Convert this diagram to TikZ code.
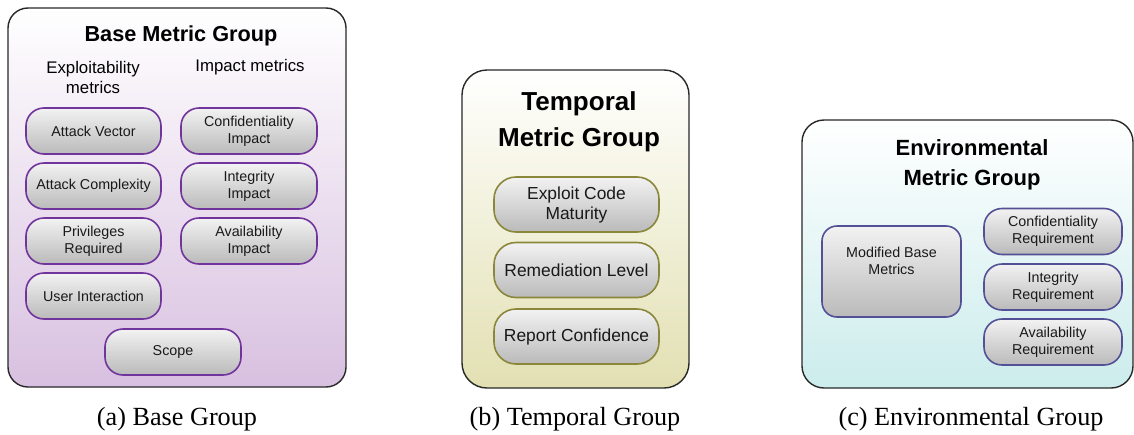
\documentclass[tikz,border=0pt]{standalone}
\usepackage{fontspec}
\setmainfont{Liberation Serif}
\newfontfamily\arial{Liberation Sans}
\definecolor{basebot}{RGB}{216,192,224}
\definecolor{baseline}{RGB}{112,52,156}
\definecolor{tempbot}{RGB}{226,224,178}
\definecolor{templine}{RGB}{138,134,58}
\definecolor{envbot}{RGB}{204,236,236}
\definecolor{envline}{RGB}{84,80,150}
\definecolor{framecol}{RGB}{40,40,40}
\tikzset{
	group/.style = {draw=framecol, line width=1.4pt, rounded corners=20pt, inner sep=0pt},
	metric/.style = {rounded corners=18pt, line width=1.6pt, top color=white!95!black, bottom color=black!27, inner sep=0pt, align=center, font=\arial\fontsize{14.3}{17}\selectfont, text=black!90, execute at begin node={\vspace*{3pt}}},
	title/.style = {align=center, font=\arial\bfseries},
	caption/.style = {font=\fontsize{26.2}{29}\selectfont}
}
\begin{document}
\begin{tikzpicture}[x=1pt, y=-1pt]
		\useasboundingbox (0,0) rectangle (1134,434);
		% base group
		\node [group, top color=white, bottom color=basebot, minimum width=338pt, minimum height=379pt] (base) at (177,197.5) {};
		\node [title, font=\arial\bfseries\fontsize{21.7}{26}\selectfont] (basetitle) at (181,36) {Base Metric Group};
		\node [align=center, font=\arial\fontsize{16.8}{20}\selectfont] (exploit) at (93,77) {Exploitability\\metrics};
		\node [align=center, font=\arial\fontsize{16.8}{20}\selectfont] (impact) at (250,67) {Impact metrics};
		\node [metric, draw=baseline, minimum width=135pt, minimum height=46pt] (av) at (93.5,131) {Attack Vector};
		\node [metric, draw=baseline, minimum width=135pt, minimum height=46pt] (ac) at (93.5,186) {Attack Complexity};
		\node [metric, draw=baseline, minimum width=135pt, minimum height=46pt] (pr) at (93.5,241) {Privileges\\Required};
		\node [metric, draw=baseline, minimum width=135pt, minimum height=46pt] (ui) at (93.5,296) {User Interaction};
		\node [metric, draw=baseline, minimum width=136pt, minimum height=46pt] (ci) at (249,131) {Confidentiality\\Impact};
		\node [metric, draw=baseline, minimum width=136pt, minimum height=46pt] (ii) at (249,186) {Integrity\\Impact};
		\node [metric, draw=baseline, minimum width=136pt, minimum height=46pt] (ai) at (249,241) {Availability\\Impact};
		\node [metric, draw=baseline, minimum width=136pt, minimum height=46pt] (scope) at (173,352) {Scope};
		\node [caption] (capa) at (177,419) {(a) Base Group};
		% temporal group
		\node [group, rounded corners=25pt, top color=white, bottom color=tempbot, minimum width=227pt, minimum height=318pt] (temp) at (575.5,229) {};
		\node [title, font=\arial\bfseries\fontsize{26}{36}\selectfont] (temptitle) at (579,122) {Temporal\\Metric Group};
		\node [metric, draw=templine, rounded corners=22pt, minimum width=165pt, minimum height=55pt, font=\arial\fontsize{17.4}{20}\selectfont] (ecm) at (576.5,204.5) {Exploit Code\\Maturity};
		\node [metric, draw=templine, rounded corners=22pt, minimum width=165pt, minimum height=55pt, font=\arial\fontsize{17.4}{20}\selectfont] (rl) at (576.5,270) {Remediation Level};
		\node [metric, draw=templine, rounded corners=22pt, minimum width=165pt, minimum height=55pt, font=\arial\fontsize{17.4}{20}\selectfont] (rc) at (576.5,336.5) {Report Confidence};
		\node [caption] (capb) at (575,419) {(b) Temporal Group};
		% environmental group
		\node [group, rounded corners=22pt, top color=white, bottom color=envbot, minimum width=331pt, minimum height=268pt] (env) at (967.5,254) {};
		\node [title, font=\arial\bfseries\fontsize{22}{30}\selectfont] (envtitle) at (972,164.5) {Environmental\\Metric Group};
		\node [metric, draw=envline, rounded corners=15pt, minimum width=139pt, minimum height=91pt] (mbm) at (891.5,271.5) {};
		\node [align=center, font=\arial\fontsize{14.3}{17}\selectfont, text=black!90] (mbmtext) at (891.5,260.5) {Modified Base\\Metrics};
		\node [metric, draw=envline, minimum width=138pt, minimum height=46pt] (cr) at (1053,231.5) {Confidentiality\\Requirement};
		\node [metric, draw=envline, minimum width=138pt, minimum height=46pt] (ir) at (1053,287) {Integrity\\Requirement};
		\node [metric, draw=envline, minimum width=138pt, minimum height=46pt] (ar) at (1053,342) {Availability\\Requirement};
		\node [caption] (capc) at (971,419) {(c) Environmental Group};
\end{tikzpicture}
\end{document}
